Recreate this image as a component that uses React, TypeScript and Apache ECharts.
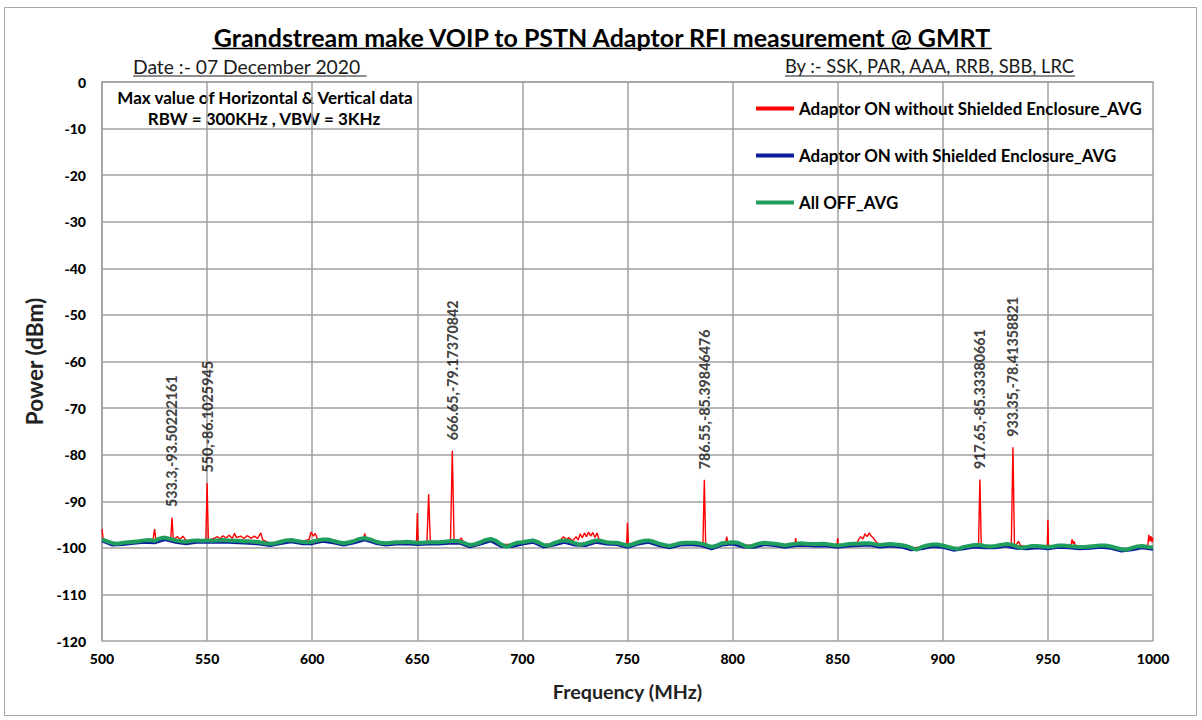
import React, { useEffect, useRef } from 'react';
import * as echarts from 'echarts';

const FONT = 'Lato, "Open Sans", sans-serif';

const titleText = 'Grandstream make VOIP to PSTN Adaptor RFI measurement @ GMRT';
const dateText = 'Date :- 07 December 2020';
const byText = 'By :- SSK, PAR, AAA, RRB, SBB, LRC';
const noteLines = ['Max value of Horizontal & Vertical data', 'RBW = 300KHz , VBW = 3KHz'];
const seriesNames = [
  'Adaptor ON without Shielded Enclosure_AVG',
  'Adaptor ON with Shielded Enclosure_AVG',
  'All OFF_AVG',
];
const xAxisName = 'Frequency (MHz)';
const yAxisName = 'Power (dBm)';

// All OFF trace, 500 MHz to 1000 MHz every 2.5 MHz (dBm)
const allOffStart = 500;
const allOffStep = 2.5;
const allOffDb = [
  -98.2, -98.6, -99.0, -99.1, -98.9, -98.8, -98.7, -98.6,
  -98.4, -98.3, -98.5, -98.0, -97.8, -98.1, -98.4, -98.6,
  -98.7, -98.5, -98.4, -98.5, -98.4, -98.5, -98.4, -98.3,
  -98.4, -98.5, -98.5, -98.6, -98.6, -98.7, -98.8, -99.0,
  -99.1, -99.0, -98.7, -98.4, -98.3, -98.5, -98.7, -98.8,
  -98.7, -98.4, -98.2, -98.2, -98.5, -98.8, -99.0, -98.8,
  -98.5, -98.1, -97.9, -98.2, -98.6, -98.9, -99.0, -98.9,
  -98.8, -98.8, -98.7, -98.8, -98.9, -98.9, -98.8, -98.8,
  -98.8, -98.7, -98.6, -98.5, -98.6, -99.0, -99.4, -99.2,
  -98.8, -98.3, -98.1, -98.5, -99.3, -99.8, -99.3, -98.9,
  -98.8, -98.6, -98.4, -98.8, -99.4, -99.5, -99.0, -98.6,
  -98.4, -98.6, -99.0, -99.3, -99.1, -98.7, -98.4, -98.5,
  -98.8, -98.9, -98.9, -99.2, -99.5, -99.2, -98.8, -98.5,
  -98.4, -98.7, -99.1, -99.4, -99.6, -99.3, -99.0, -98.9,
  -98.9, -98.9, -99.1, -99.4, -99.8, -99.5, -99.0, -98.9,
  -98.8, -98.9, -99.4, -99.8, -99.5, -99.1, -98.9, -99.0,
  -99.1, -99.3, -99.5, -99.3, -99.1, -99.0, -99.1, -99.2,
  -99.2, -99.1, -99.2, -99.4, -99.5, -99.4, -99.2, -99.1,
  -99.1, -99.0, -99.0, -99.2, -99.4, -99.3, -99.2, -99.3,
  -99.4, -99.6, -100.0, -100.4, -99.8, -99.5, -99.3, -99.3,
  -99.5, -99.8, -100.1, -100.2, -99.8, -99.6, -99.4, -99.4,
  -99.6, -99.7, -99.6, -99.4, -99.2, -99.3, -99.7, -100.0,
  -99.8, -99.6, -99.6, -99.7, -99.8, -99.7, -99.5, -99.5,
  -99.6, -99.7, -99.8, -99.8, -99.7, -99.6, -99.5, -99.5,
  -99.7, -100.0, -100.3, -100.4, -100.0, -99.7, -99.6, -99.8,
  -99.9,
];

// Adaptor ON with shielded enclosure, every 5 MHz (dBm)
const shieldedStart = 500;
const shieldedStep = 5;
const shieldedDb = [
  -98.5, -99.4, -99.3, -99.0, -98.8, -98.9, -98.2, -98.8, -99.1, -98.8,
  -98.8, -98.8, -98.8, -98.9, -99.0, -99.2, -99.5, -99.1, -98.7, -99.1,
  -99.1, -98.6, -98.9, -99.4, -98.9, -98.3, -99.0, -99.4, -99.2, -99.1,
  -99.3, -99.2, -99.2, -99.0, -99.0, -99.8, -99.2, -98.5, -99.7, -99.7,
  -99.2, -98.8, -99.8, -99.4, -98.8, -99.4, -99.5, -98.8, -99.2, -99.3,
  -99.9, -99.2, -98.8, -99.5, -100.0, -99.4, -99.3, -99.5, -100.2, -99.4,
  -99.2, -99.8, -99.9, -99.3, -99.5, -99.9, -99.5, -99.5, -99.6, -99.6,
  -99.9, -99.6, -99.5, -99.4, -99.8, -99.6, -99.8, -100.4, -100.2, -99.7,
  -99.9, -100.5, -100.2, -99.8, -100.0, -100.0, -99.6, -100.1, -100.2, -100.0,
  -100.2, -99.9, -100.0, -100.2, -100.1, -99.9, -100.1, -100.7, -100.4, -100.0,
  -100.3,
];

// Adaptor ON without shielded enclosure: [frequency MHz, dBm]
const unshieldedTrace = [
  [500, -96.0], [500.6, -98.3], [505, -99.0], [510, -98.9], [515, -98.7], [520, -98.4],
  [524.3, -98.3], [525, -96.0], [525.7, -98.4], [528, -98.0], [530, -97.8],
  [532.7, -98.1], [533.3, -93.50222161], [533.9, -98.2],
  [536, -97.6], [537, -98.2], [538.5, -97.5], [540, -98.4], [545, -98.4],
  [549.4, -98.4], [550, -86.1025945], [550.6, -98.4],
  [553, -98.0], [555, -97.6], [556, -98.1], [557.5, -97.4], [559, -97.9], [560.5, -97.3],
  [562, -98.0], [563, -96.9], [564, -97.8], [566, -97.5], [567.5, -98.0], [569, -97.4],
  [571, -97.9], [572.5, -97.5], [574, -98.0], [575.5, -96.8], [576.5, -98.3], [578, -98.6],
  [580, -99.0], [585, -98.7], [590, -98.3], [595, -98.7],
  [598.5, -98.2], [599.5, -96.6], [600.5, -97.5], [601.5, -96.9], [602.5, -98.1],
  [605, -98.2], [610, -98.5], [615, -99.0], [620, -98.5],
  [624.5, -98.0], [625, -96.9], [625.5, -98.0], [630, -98.6], [635, -99.0], [640, -98.8], [645, -98.7],
  [649.6, -98.9], [650, -92.5], [650.4, -98.9],
  [654.6, -98.8], [655.4, -88.5], [656.2, -98.8],
  [660, -98.8], [665.8, -98.6], [666.65, -79.17370842], [667.5, -98.5],
  [670, -98.3], [671, -97.9], [672, -98.8], [675, -99.4], [680, -98.8], [685, -98.1],
  [690, -99.3], [695, -99.3], [700, -98.8], [705, -98.4], [710, -99.4], [715, -99.0],
  [718, -98.4], [719.5, -97.6], [721, -98.2], [722, -97.8], [724, -98.5], [725.5, -97.6],
  [726.5, -98.3], [727.5, -97.0], [728.5, -97.9], [729.5, -96.8], [730.5, -97.6], [731.5, -96.6],
  [732.5, -97.5], [733.5, -96.7], [734.5, -97.8], [735.5, -96.8], [736.5, -98.2], [738, -98.6],
  [740, -98.8], [745, -98.9],
  [749.6, -99.2], [750, -94.6], [750.4, -99.3],
  [755, -98.8], [760, -98.4], [765, -99.1], [770, -99.6], [775, -99.0], [780, -98.9],
  [785.9, -99.1], [786.55, -85.39846476], [787.2, -99.4],
  [790, -99.8], [795, -99.0], [796.7, -98.9], [797.2, -97.6], [797.7, -98.9],
  [800, -98.8], [805, -99.4], [810, -99.5], [815, -98.9], [820, -99.1], [825, -99.5],
  [829.7, -99.2], [830, -97.9], [830.3, -99.1], [835, -99.1], [840, -99.2], [845, -99.2],
  [849.7, -99.5], [850, -97.9], [850.3, -99.5], [855, -99.2],
  [859, -99.1], [860, -98.2], [861, -97.6], [862, -98.1], [863, -97.0], [864, -97.6],
  [865, -96.8], [866, -97.5], [867, -97.9], [868, -98.6],
  [870, -99.4], [875, -99.2], [880, -99.4], [885, -100.0], [890, -99.8], [895, -99.3],
  [900, -99.5], [905, -100.1], [910, -99.8], [915, -99.4],
  [917.0, -99.4], [917.65, -85.33380661], [918.3, -99.5], [920, -99.6], [925, -99.6], [930, -99.2],
  [932.6, -99.3], [933.35, -78.41358821], [934.1, -99.4], [935, -99.3], [936, -98.6], [937, -99.5],
  [940, -99.8], [945, -99.6],
  [949.7, -99.8], [950, -94.0], [950.3, -99.8], [955, -99.5], [960, -99.6],
  [961, -99.5], [961.5, -98.2], [962, -99.1], [962.5, -98.6], [963, -99.6],
  [965, -99.8], [970, -99.7], [975, -99.5], [980, -99.7], [985, -100.3], [990, -100.0], [995, -99.6],
  [997.5, -99.6], [998, -97.2], [998.5, -98.6], [999, -97.5], [999.5, -98.8], [1000, -97.8],
];

// Annotated maxima
const peakFreqs = [533.3, 550, 666.65, 786.55, 917.65, 933.35];
const peakDbs = [-93.50222161, -86.1025945, -79.17370842, -85.39846476, -85.33380661, -78.41358821];

const xMin = 500;
const xMax = 1000;
const xStep = 50;
const yMin = -120;
const yMax = 0;
const yStep = 10;

function measure(text: string, weight: string, size: number): number {
  const ctx = document.createElement('canvas').getContext('2d');
  if (!ctx) return text.length * size * 0.55;
  ctx.font = `${weight} ${size}px Lato`;
  return ctx.measureText(text).width;
}
function fitSize(text: string, weight: string, target: number): number {
  const w = measure(text, weight, 100);
  return Math.round((100 * target / w) * 10) / 10;
}

export default function App() {
  const ref = useRef<HTMLDivElement>(null);

  useEffect(() => {
    const el = ref.current;
    if (!el) return;
    const chart = echarts.init(el, null, { renderer: 'svg' });

    const titleSize = fitSize(titleText, 'bold', 780);
    const titleW = measure(titleText, 'bold', titleSize);
    const dateSize = fitSize(dateText, 'normal', 228);
    const dateW = measure(dateText, 'normal', dateSize);
    const bySize = fitSize(byText, 'normal', 290);
    const byW = measure(byText, 'normal', bySize);
    const noteSize = fitSize(noteLines[0], 'bold', 296);
    const legendSize = fitSize(seriesNames[0], 'bold', 343);
    const peakSize = fitSize('666.65,-79.17370842', 'bold', 140);
    const yNameSize = fitSize(yAxisName, 'bold', 128);
    const xNameSize = fitSize(xAxisName, 'bold', 150);

    const option: any = {
      animation: false,
      backgroundColor: '#ffffff',
      textStyle: { fontFamily: FONT },
      grid: { left: 102, right: 49, top: 82, bottom: 79, containLabel: false },
      legend: {
        data: seriesNames,
        orient: 'vertical',
        left: 751,
        top: 95,
        itemWidth: 38,
        itemHeight: 4,
        itemGap: 30,
        icon: 'rect',
        selectedMode: false,
        textStyle: { fontFamily: FONT, fontWeight: 700, fontSize: legendSize, color: '#000' },
      },
      xAxis: {
        type: 'value',
        min: xMin,
        max: xMax,
        interval: xStep,
        name: xAxisName,
        nameLocation: 'middle',
        nameGap: 40,
        nameTextStyle: { fontFamily: FONT, fontWeight: 700, fontSize: xNameSize, color: '#222' },
        axisLine: { show: true, lineStyle: { color: '#a0a0a0', width: 1.5 } },
        axisTick: { show: false },
        axisLabel: {
          fontFamily: FONT,
          fontWeight: 900,
          fontSize: 14,
          color: '#000',
          margin: 10,
          formatter: (v: number) => String(v),
        },
        splitLine: { show: true, lineStyle: { color: '#a0a0a0', width: 1.5 } },
      },
      yAxis: {
        type: 'value',
        min: yMin,
        max: yMax,
        interval: yStep,
        name: yAxisName,
        nameLocation: 'middle',
        nameGap: 56,
        nameRotate: 90,
        nameTextStyle: { fontFamily: FONT, fontWeight: 700, fontSize: yNameSize, color: '#222' },
        axisLine: { show: true, lineStyle: { color: '#a0a0a0', width: 1.5 } },
        axisTick: { show: false },
        axisLabel: {
          fontFamily: FONT,
          fontWeight: 900,
          fontSize: 14,
          color: '#000',
          margin: 16,
          formatter: (v: number) => String(v),
        },
        splitLine: { show: true, lineStyle: { color: '#a0a0a0', width: 1.5 } },
      },
      series: [
        {
          name: seriesNames[0],
          type: 'line',
          data: unshieldedTrace,
          showSymbol: false,
          color: '#ff0000',
          lineStyle: { color: '#ff0000', width: 1.4 },
          z: 2,
        },
        {
          name: seriesNames[1],
          type: 'line',
          data: shieldedDb.map((v, i) => [shieldedStart + shieldedStep * i, v]),
          showSymbol: false,
          color: '#0b1ea0',
          lineStyle: { color: '#0b1ea0', width: 3 },
          z: 3,
        },
        {
          name: seriesNames[2],
          type: 'line',
          data: allOffDb.map((v, i) => [allOffStart + allOffStep * i, v]),
          showSymbol: false,
          color: '#1f9e5e',
          lineStyle: { color: '#1f9e5e', width: 4 },
          z: 4,
        },
        {
          name: 'peaks',
          type: 'scatter',
          data: peakFreqs.map((f, i) => [f, peakDbs[i]]),
          symbolSize: 1,
          itemStyle: { color: 'rgba(0,0,0,0)' },
          silent: true,
          z: 5,
          label: {
            show: true,
            position: 'top',
            distance: 10,
            rotate: 90,
            align: 'left',
            verticalAlign: 'middle',
            fontFamily: FONT,
            fontWeight: 900,
            fontSize: peakSize,
            color: '#111',
            formatter: (p: any) => `${p.value[0]},${p.value[1]}`,
          },
        },
      ],
      graphic: [
        {
          type: 'rect',
          silent: true,
          shape: { x: 4.5, y: 7.5, width: 1192, height: 708 },
          style: { fill: 'none', stroke: '#a6a6a6', lineWidth: 1 },
        },
        {
          type: 'text',
          x: 602,
          y: 37,
          style: {
            text: titleText,
            font: `bold ${titleSize}px ${FONT}`,
            fill: '#000',
            align: 'center',
            verticalAlign: 'middle',
          },
        },
        {
          type: 'line',
          shape: { x1: 602 - titleW / 2, y1: 48.5, x2: 602 + titleW / 2, y2: 48.5 },
          style: { stroke: '#000', lineWidth: 1.6 },
        },
        {
          type: 'text',
          x: 133,
          y: 66,
          style: {
            text: dateText,
            font: `normal ${dateSize}px ${FONT}`,
            fill: '#1a1a1a',
            align: 'left',
            verticalAlign: 'middle',
          },
        },
        {
          type: 'line',
          shape: { x1: 133, y1: 76, x2: 133 + dateW + 6, y2: 76 },
          style: { stroke: '#1a1a1a', lineWidth: 1.2 },
        },
        {
          type: 'text',
          x: 785,
          y: 66,
          style: {
            text: byText,
            font: `normal ${bySize}px ${FONT}`,
            fill: '#1a1a1a',
            align: 'left',
            verticalAlign: 'middle',
          },
        },
        {
          type: 'line',
          shape: { x1: 785, y1: 76, x2: 785 + byW, y2: 76 },
          style: { stroke: '#1a1a1a', lineWidth: 1.2 },
        },
        {
          type: 'text',
          x: 265,
          y: 97,
          style: {
            text: noteLines[0],
            font: `bold ${noteSize}px ${FONT}`,
            fill: '#000',
            align: 'center',
            verticalAlign: 'middle',
          },
        },
        {
          type: 'text',
          x: 264,
          y: 118,
          style: {
            text: noteLines[1],
            font: `bold ${noteSize}px ${FONT}`,
            fill: '#000',
            align: 'center',
            verticalAlign: 'middle',
          },
        },
      ],
    };

    chart.setOption(option);
    return () => {
      chart.dispose();
    };
  }, []);

  return (
    <div
      ref={ref}
      style={{ position: 'absolute', left: 0, top: 0, width: 1202, height: 720, background: '#fff' }}
    />
  );
}
